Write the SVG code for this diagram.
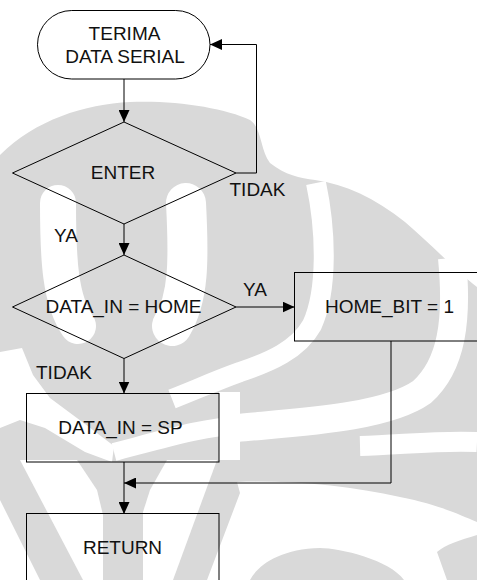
<svg xmlns="http://www.w3.org/2000/svg" width="477" height="580" viewBox="0 0 477 580">
<style>
.s{fill:none;stroke:#000;stroke-width:1}
.t{font-family:"Liberation Sans",Arial,sans-serif;font-size:19px;fill:#111;text-anchor:middle}
.c{fill:none;stroke:#000;stroke-width:1}
.wm{fill:#d9d9d9}
.ww{fill:#fff}
.wb{fill:none;stroke:#fff}
</style>
<defs>
<marker id="ah" viewBox="0 0 12 11" refX="12" refY="5.5" markerWidth="12" markerHeight="11" markerUnits="userSpaceOnUse" orient="auto">
<path d="M0,0 L12,5.5 L0,11 Z" fill="#000"/>
</marker>
</defs>
<rect width="477" height="580" fill="#fff"/>
<g id="watermark">
<path class="wm" d="M0,155 C35,120 85,104 130,102 C175,100 225,108 250,120 C262,128 260,150 270,163 C285,175 300,178 315,180 C345,184 375,198 405,222 C430,243 455,270 477,287 L477,580 L0,580 Z"/>
<path class="wb" stroke-width="36" stroke-linecap="round" d="M58,203 C58,260 60,300 78,326"/>
<path class="wb" stroke-width="40" stroke-linecap="round" d="M186,203 C189,260 189,298 172,326"/>
<path class="wb" stroke-width="20" d="M316,183 C326,230 328,290 312,325 C298,350 270,362 240,372 C215,381 195,390 172,399"/>
<path class="wb" stroke-width="28" d="M452,258 C458,320 452,365 422,392 C385,418 300,422 237,428"/>
<path class="wb" stroke-width="18" d="M240,426 C210,425 160,440 114,452"/>
<rect class="ww" x="219" y="392" width="21" height="68"/>
<path class="wb" stroke-width="20" d="M360,446 C400,445 440,440 477,442"/>
<path class="ww" d="M237,482 C290,480 350,486 400,497 C440,505 460,515 477,522 L477,535 C460,540 445,545 437,552 L447,580 L404,580 C390,560 340,548 320,548 C280,549 258,565 250,580 L207,580 L240,493 Z"/>
<path class="ww" d="M0,352 L22,348 L33,375 L50,398 L85,424 L114,446 L112,462 L85,452 L45,428 L20,420 L0,428 Z"/>
<path class="ww" d="M20,460 L77,460 L97,490 L103,515 L103,580 L83,580 Z"/>
<path class="ww" d="M0,500 L40,580 L0,580 Z"/>
<path class="ww" d="M167,460 L217,460 L173,580 L143,580 L143,512 L150,490 Z"/>
</g>
<g id="connectors">
<path class="c" d="M124,79 L124,122" marker-end="url(#ah)"/>
<path class="c" d="M236,173 L256.5,173 L256.5,44.5 L210,44.5" marker-end="url(#ah)"/>
<path class="c" d="M124,224 L124,255" marker-end="url(#ah)"/>
<path class="c" d="M236,307 L294.5,307" marker-end="url(#ah)"/>
<path class="c" d="M124,358.5 L124,393.5" marker-end="url(#ah)"/>
<path class="c" d="M124,462 L124,514" marker-end="url(#ah)"/>
<path class="c" d="M391,341 L391,483 L124,483" marker-end="url(#ah)"/>
</g>
<g id="n-start">
<rect class="s" x="37.5" y="10.5" width="172.5" height="68.5" rx="34.25"/>
<text class="t" x="124.5" y="39.5">TERIMA</text>
<text class="t" x="125" y="63">DATA SERIAL</text>
</g>
<g id="n-enter">
<polygon class="s" points="12.5,173 124,122 236,173 124,224"/>
<text class="t" x="123" y="178.5">ENTER</text>
</g>
<g id="n-home">
<polygon class="s" points="12.5,307 124,255 236,307 124,358.5"/>
<text class="t" x="123.5" y="312.7">DATA_IN = HOME</text>
</g>
<g id="n-homebit">
<rect class="s" x="294.5" y="272.5" width="190" height="68.5"/>
<text class="t" x="389.5" y="312.7">HOME_BIT = 1</text>
</g>
<g id="n-sp">
<rect class="s" x="26.5" y="393.5" width="192.5" height="68.5"/>
<text class="t" x="120.5" y="434">DATA_IN = SP</text>
</g>
<g id="n-return">
<rect class="s" x="26.5" y="513.5" width="192.5" height="80"/>
<text class="t" x="122.5" y="554">RETURN</text>
</g>
<g id="labels">
<text class="t" x="257.5" y="196">TIDAK</text>
<text class="t" x="66" y="242">YA</text>
<text class="t" x="255" y="296">YA</text>
<text class="t" x="64" y="379">TIDAK</text>
</g>
</svg>
